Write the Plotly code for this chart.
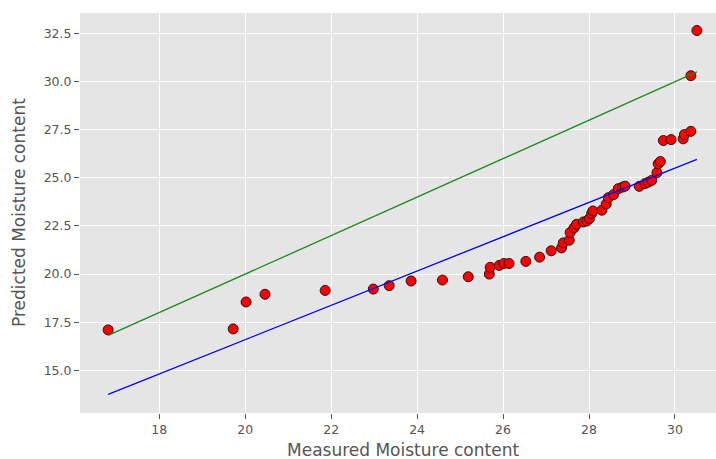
import plotly.graph_objects as go

measured = [16.81, 19.72, 20.02, 20.46, 21.86, 22.98, 23.35, 23.86, 24.59, 25.19,
            25.68, 25.70, 25.91, 26.02, 26.14, 26.53, 26.85, 27.12, 27.36, 27.40,
            27.54, 27.56, 27.65, 27.71, 27.87, 27.95, 28.01, 28.06, 28.09, 28.30,
            28.40, 28.45, 28.57, 28.68, 28.78, 28.84, 29.17, 29.30, 29.38, 29.46,
            29.58, 29.61, 29.66, 29.73, 29.91, 30.19, 30.22, 30.37, 30.37, 30.51]
predicted = [17.10, 17.15, 18.55, 18.95, 19.15, 19.22, 19.40, 19.64, 19.69, 19.86,
             20.00, 20.35, 20.45, 20.55, 20.55, 20.66, 20.88, 21.21, 21.36, 21.62,
             21.76, 22.16, 22.40, 22.59, 22.71, 22.76, 22.89, 23.14, 23.28, 23.32,
             23.64, 23.97, 24.13, 24.44, 24.52, 24.57, 24.56, 24.70, 24.78, 24.87,
             25.27, 25.73, 25.85, 26.94, 26.99, 27.03, 27.25, 27.42, 30.31, 32.66]

ideal_x = [16.81, 30.51]
ideal_y = [16.81, 30.51]
fit_x = [16.81, 30.51]
fit_y = [13.75, 25.96]

x_ticks = [18, 20, 22, 24, 26, 28, 30]
y_ticks = [15.0, 17.5, 20.0, 22.5, 25.0, 27.5, 30.0, 32.5]

x_title = "Measured Moisture content"
y_title = "Predicted Moisture content"

fig = go.Figure()
fig.add_trace(go.Scatter(x=measured, y=predicted, mode="markers",
                         marker=dict(color="#ff0000", size=10,
                                     line=dict(color="#2a1414", width=1)),
                         showlegend=False))
fig.add_trace(go.Scatter(x=ideal_x, y=ideal_y, mode="lines",
                         line=dict(color="#1a8a1a", width=1.3), showlegend=False))
fig.add_trace(go.Scatter(x=fit_x, y=fit_y, mode="lines",
                         line=dict(color="#0000ff", width=1.3), showlegend=False))

axis_common = dict(showgrid=True, gridcolor="white", gridwidth=1, zeroline=False,
                   ticks="outside", ticklen=5, tickcolor="#555555", tickwidth=1,
                   tickfont=dict(family="DejaVu Sans", size=12.5, color="#555555"),
                   showline=False, automargin=False)

fig.update_layout(
    width=716, height=459,
    margin=dict(l=80, r=0, t=13, b=46),
    paper_bgcolor="white", plot_bgcolor="#E5E5E5",
    xaxis=dict(range=[16.155, 30.955], tickvals=x_ticks,
               ticktext=[str(v) for v in x_ticks], **axis_common),
    yaxis=dict(range=[12.78, 33.57], tickvals=y_ticks,
               ticktext=[f"{v:.1f}" for v in y_ticks], **axis_common),
    annotations=[
        dict(text=x_title, xref="paper", yref="paper", x=0.5, y=0,
             xanchor="center", yanchor="middle", xshift=5, yshift=-37,
             showarrow=False,
             font=dict(family="DejaVu Sans", size=17, color="#555555")),
        dict(text=y_title, xref="paper", yref="paper", x=0, y=0.5,
             xanchor="center", yanchor="middle", xshift=-61, textangle=-90,
             showarrow=False,
             font=dict(family="DejaVu Sans", size=17, color="#555555")),
    ],
)

fig.write_html("out.html", config={"displayModeBar": False},
               post_script="document.body.style.margin='0';document.body.style.overflow='hidden';")
